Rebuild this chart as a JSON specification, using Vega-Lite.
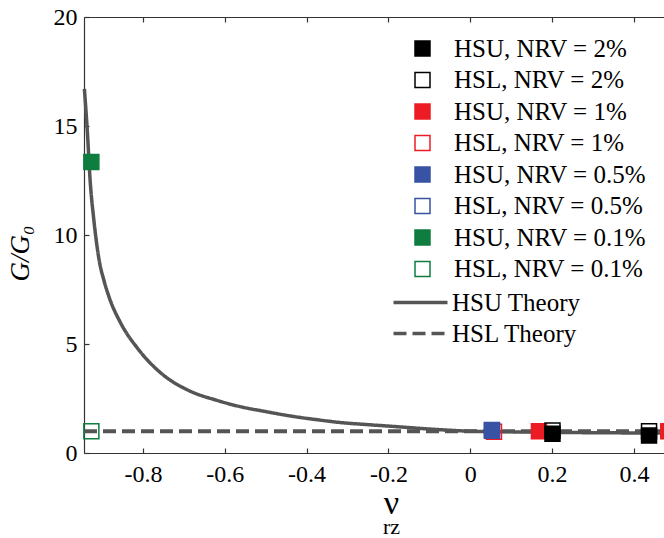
{
  "$schema": "https://vega.github.io/schema/vega-lite/v6.json",
  "width": 581,
  "height": 436,
  "autosize": "none",
  "padding": {"left": 84, "top": 17, "right": 0, "bottom": 85},
  "background": "white",
  "config": {
    "view": {"stroke": null},
    "font": "Liberation Serif",
    "axis": {
      "grid": false,
      "domainColor": "#333",
      "tickColor": "#333",
      "domainWidth": 1.2,
      "tickWidth": 1.2,
      "labelFont": "Liberation Serif",
      "labelFontSize": 24,
      "labelColor": "black",
      "titleFont": "Liberation Serif",
      "titleColor": "black",
      "titleFontWeight": "normal"
    },
    "legend": {"labelFont": "Liberation Serif", "labelFontSize": 25, "labelColor": "black", "labelLimit": 400}
  },
  "resolve": {"axis": {"x": "independent"}},
  "layer": [
    {
      "data": {"values": [
        {"nu": -0.943, "g": 16.7, "theory": "HSU Theory"},
        {"nu": -0.936, "g": 14.8, "theory": "HSU Theory"},
        {"nu": -0.929, "g": 12.5, "theory": "HSU Theory"},
        {"nu": -0.92, "g": 10.7, "theory": "HSU Theory"},
        {"nu": -0.907, "g": 8.85, "theory": "HSU Theory"},
        {"nu": -0.895, "g": 7.9, "theory": "HSU Theory"},
        {"nu": -0.883, "g": 7.17, "theory": "HSU Theory"},
        {"nu": -0.854, "g": 5.95, "theory": "HSU Theory"},
        {"nu": -0.813, "g": 4.8, "theory": "HSU Theory"},
        {"nu": -0.758, "g": 3.7, "theory": "HSU Theory"},
        {"nu": -0.685, "g": 2.84, "theory": "HSU Theory"},
        {"nu": -0.62, "g": 2.42, "theory": "HSU Theory"},
        {"nu": -0.563, "g": 2.13, "theory": "HSU Theory"},
        {"nu": -0.5, "g": 1.9, "theory": "HSU Theory"},
        {"nu": -0.44, "g": 1.7, "theory": "HSU Theory"},
        {"nu": -0.38, "g": 1.54, "theory": "HSU Theory"},
        {"nu": -0.318, "g": 1.4, "theory": "HSU Theory"},
        {"nu": -0.25, "g": 1.3, "theory": "HSU Theory"},
        {"nu": -0.196, "g": 1.23, "theory": "HSU Theory"},
        {"nu": -0.1, "g": 1.1, "theory": "HSU Theory"},
        {"nu": 0.0, "g": 1.0, "theory": "HSU Theory"},
        {"nu": 0.1, "g": 0.97, "theory": "HSU Theory"},
        {"nu": 0.2, "g": 0.95, "theory": "HSU Theory"},
        {"nu": 0.3, "g": 0.93, "theory": "HSU Theory"},
        {"nu": 0.4, "g": 0.92, "theory": "HSU Theory"},
        {"nu": 0.476, "g": 0.91, "theory": "HSU Theory"}
      ]},
      "mark": {"type": "line", "color": "#555", "strokeWidth": 3.5, "interpolate": "monotone"},
      "encoding": {
        "x": {
          "field": "nu", "type": "quantitative",
          "scale": {"domain": [-0.944, 0.476], "nice": false, "zero": false},
          "axis": {
            "orient": "bottom",
            "values": [-0.8, -0.6, -0.4, -0.2, 0, 0.2, 0.4],
            "tickSize": -5,
            "labelPadding": 14,
            "labelFlush": false,
            "labelOverlap": false,
            "labelExpr": "datum.value == 0 ? '0' : replace(format(datum.value, '.1f'), '\u2212', '-')",
            "title": "ν",
            "titleFontSize": 34,
            "titleX": 307,
            "titleY": 60,
            "titleAlign": "center",
            "titleBaseline": "alphabetic"
          }
        },
        "y": {
          "field": "g", "type": "quantitative",
          "scale": {"domain": [0, 20], "nice": false},
          "axis": {
            "values": [0, 5, 10, 15, 20],
            "tickSize": -5,
            "labelPadding": 12,
            "title": "G/G₀",
            "titleFontSize": 27,
            "titleFontStyle": "italic",
            "titleAngle": 270,
            "titleX": -56,
            "titleY": 236,
            "titleAlign": "center",
            "titleBaseline": "alphabetic"
          }
        },
        "strokeDash": {
          "field": "theory", "type": "nominal",
          "scale": {"domain": ["HSU Theory", "HSL Theory"], "range": [[1, 0], [13, 6]]},
          "legend": {
            "title": null,
            "orient": "none",
            "legendX": 324,
            "legendY": 273,
            "symbolType": "M-5.4,0H5.4",
            "symbolSize": 100,
            "symbolStrokeColor": "#555",
            "symbolFillColor": "transparent",
            "symbolStrokeWidth": 3.5,
            "labelOffset": 19,
            "rowPadding": 5,
            "padding": 0
          }
        }
      }
    },
    {
      "data": {"values": [
        {"nu": -0.944, "g": 1.0, "theory": "HSL Theory"},
        {"nu": 0.476, "g": 1.0, "theory": "HSL Theory"}
      ]},
      "mark": {"type": "line", "color": "#555", "strokeWidth": 4},
      "encoding": {
        "x": {
          "field": "nu", "type": "quantitative",
          "axis": {
            "orient": "bottom",
            "ticks": false,
            "labels": false,
            "domain": false,
            "title": "rz",
            "titleFontSize": 22,
            "titleX": 307,
            "titleY": 80,
            "titleAlign": "center",
            "titleBaseline": "alphabetic"
          }
        },
        "y": {"field": "g", "type": "quantitative"},
        "strokeDash": {"field": "theory", "type": "nominal"}
      }
    },
    {
      "data": {"values": [
        {"nu": -0.926, "g": 1.0, "series": "HSL, NRV = 0.1%"},
        {"nu": -0.926, "g": 13.35, "series": "HSU, NRV = 0.1%"},
        {"nu": 0.058, "g": 0.97, "series": "HSL, NRV = 1%"},
        {"nu": 0.053, "g": 1.02, "series": "HSL, NRV = 0.5%"},
        {"nu": 0.053, "g": 1.05, "series": "HSU, NRV = 0.5%"},
        {"nu": 0.168, "g": 1.0, "series": "HSU, NRV = 1%"},
        {"nu": 0.201, "g": 1.03, "series": "HSL, NRV = 2%"},
        {"nu": 0.201, "g": 0.88, "series": "HSU, NRV = 2%"},
        {"nu": 0.437, "g": 1.0, "series": "HSL, NRV = 2%"},
        {"nu": 0.437, "g": 0.8, "series": "HSU, NRV = 2%"},
        {"nu": 0.484, "g": 1.0, "series": "HSU, NRV = 1%"}
      ]},
      "mark": {"type": "square", "size": 225, "strokeWidth": 1.5, "opacity": 1, "filled": true},
      "encoding": {
        "x": {
          "field": "nu", "type": "quantitative",
          "axis": {
            "orient": "top",
            "values": [-0.8, -0.6, -0.4, -0.2, 0, 0.2, 0.4],
            "labels": false,
            "title": null,
            "tickSize": -5
          }
        },
        "y": {"field": "g", "type": "quantitative"},
        "fill": {
          "field": "series", "type": "nominal",
          "scale": {
            "domain": ["HSU, NRV = 2%", "HSL, NRV = 2%", "HSU, NRV = 1%", "HSL, NRV = 1%", "HSU, NRV = 0.5%", "HSL, NRV = 0.5%", "HSU, NRV = 0.1%", "HSL, NRV = 0.1%"],
            "range": ["#000000", "transparent", "#ED1C24", "transparent", "#3953A4", "transparent", "#0E7D3F", "transparent"]
          },
          "legend": {
            "title": null,
            "orient": "none",
            "legendX": 326,
            "legendY": 19,
            "symbolType": "square",
            "symbolSize": 225,
            "symbolStrokeWidth": 1.5,
            "labelOffset": 19,
            "rowPadding": 5.5,
            "padding": 0
          }
        },
        "stroke": {
          "field": "series", "type": "nominal",
          "scale": {
            "domain": ["HSU, NRV = 2%", "HSL, NRV = 2%", "HSU, NRV = 1%", "HSL, NRV = 1%", "HSU, NRV = 0.5%", "HSL, NRV = 0.5%", "HSU, NRV = 0.1%", "HSL, NRV = 0.1%"],
            "range": ["#000000", "#000000", "#ED1C24", "#ED1C24", "#3953A4", "#3953A4", "#0E7D3F", "#0E7D3F"]
          },
          "legend": {
            "title": null,
            "orient": "none",
            "legendX": 326,
            "legendY": 19,
            "symbolType": "square",
            "symbolSize": 225,
            "symbolStrokeWidth": 1.5,
            "labelOffset": 19,
            "rowPadding": 5.5,
            "padding": 0
          }
        }
      }
    }
  ]
}
